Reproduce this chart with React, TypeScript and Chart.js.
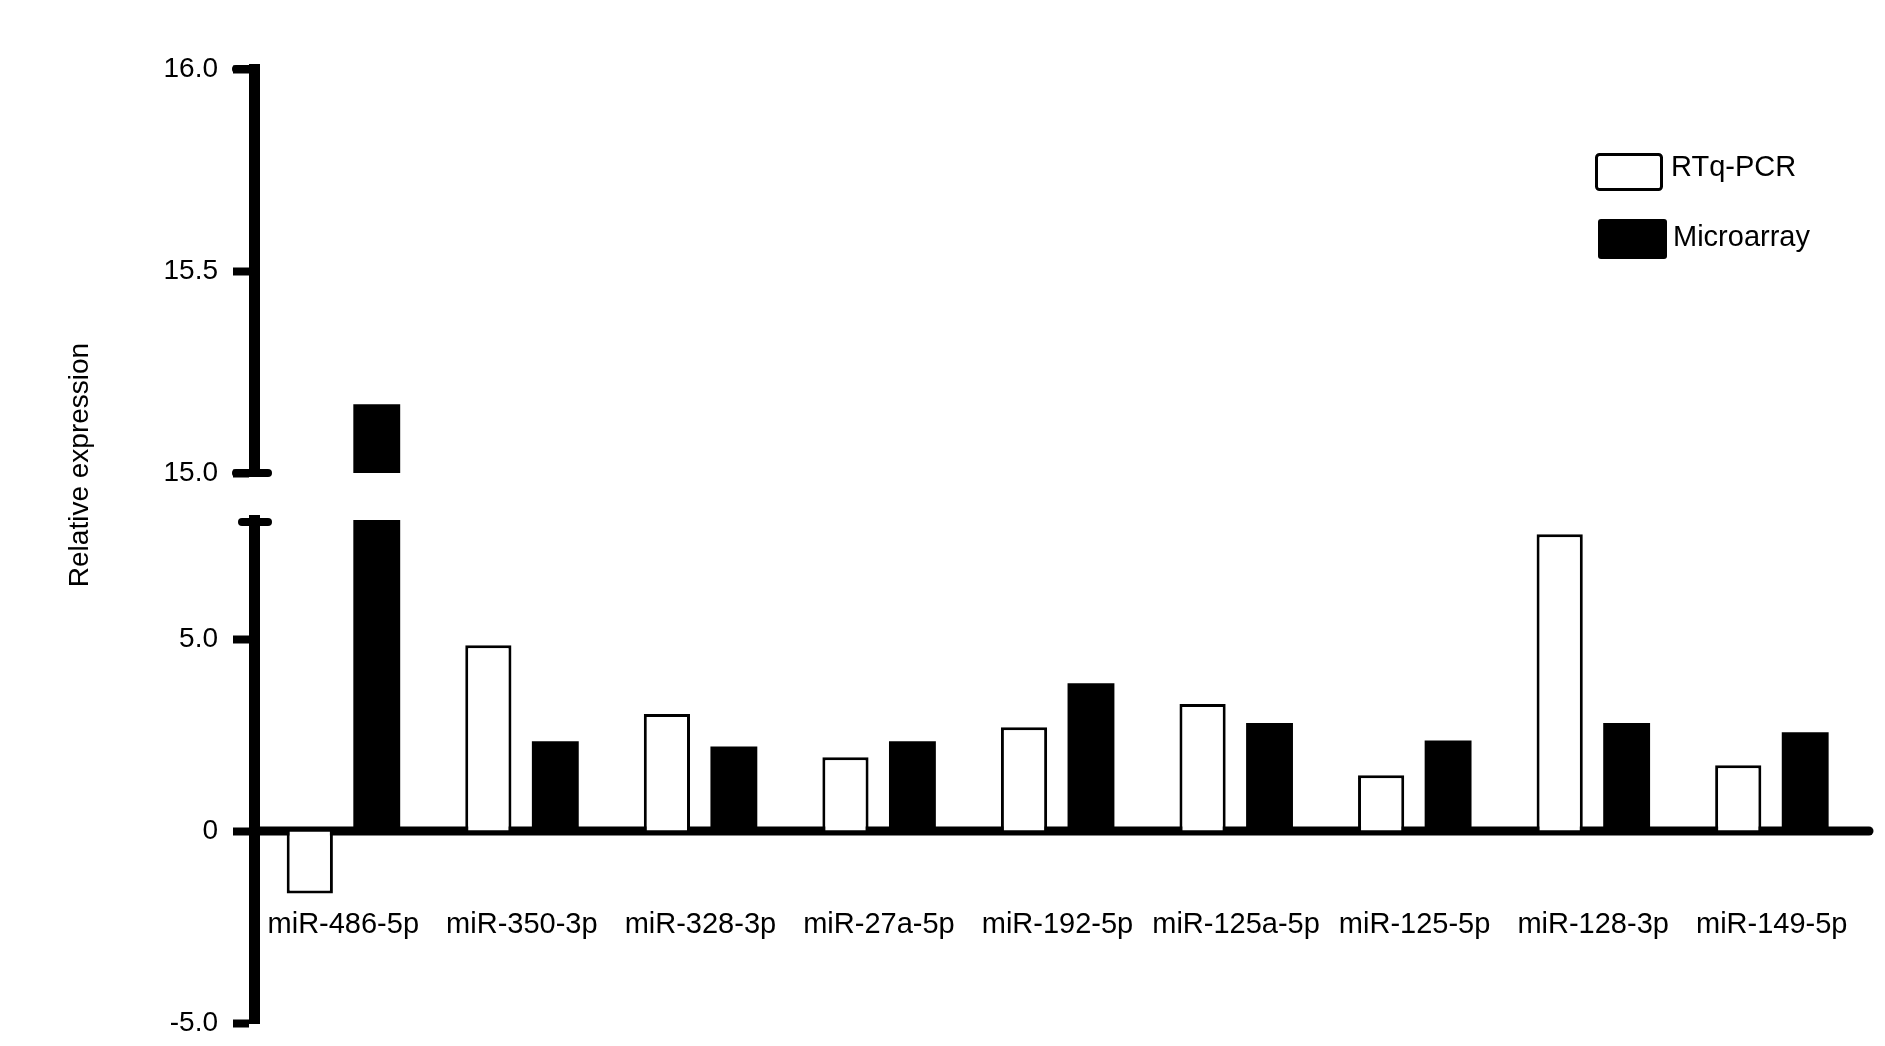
import React, { useEffect, useRef } from 'react';
import { Chart, registerables } from 'chart.js';

Chart.register(...registerables);

const CATEGORIES = ['miR-486-5p', 'miR-350-3p', 'miR-328-3p', 'miR-27a-5p', 'miR-192-5p', 'miR-125a-5p', 'miR-125-5p', 'miR-128-3p', 'miR-149-5p'];
const RTQPCR = [-1.63, 4.84, 3.05, 1.92, 2.7, 3.31, 1.45, 7.73, 1.71];
const MICROARRAY = [15.17, 2.34, 2.2, 2.34, 3.85, 2.81, 2.36, 2.81, 2.57];
const SERIES_LABELS = ['RTq-PCR', 'Microarray'];
const UPPER_TICKS = [15, 15.5, 16];
const LOWER_TICKS = [-5, 0, 5];
const UPPER_MIN = 15;
const UPPER_MAX = 16;
const LOWER_MIN = -5;
const LOWER_MAX = 8.1;
const Y_TITLE = 'Relative expression';

const FONT = "'Liberation Sans', Arial, sans-serif";
const AXIS_W = 254;

const fixWidth = (s: any) => {
  s.width = AXIS_W;
  s.paddingTop = 0;
  s.paddingBottom = 0;
  s.paddingLeft = 0;
  s.paddingRight = 0;
};

const brokenAxisPlugin = {
  id: 'brokenAxis',
  beforeDatasetsDraw(chart: any) {
    const { ctx, chartArea } = chart;
    const y = chart.scales.y;
    const y0 = y.getPixelForValue(0);
    ctx.save();
    ctx.strokeStyle = '#000';
    ctx.lineWidth = 9;
    ctx.lineCap = 'round';
    ctx.beginPath();
    ctx.moveTo(chartArea.left, y0);
    ctx.lineTo(chartArea.right + 8, y0);
    ctx.stroke();
    ctx.restore();
  },
  afterDraw(chart: any) {
    const { ctx, chartArea } = chart;
    const yTop = chart.scales.yTop;
    const y = chart.scales.y;
    const left = chartArea.left;
    ctx.save();
    ctx.strokeStyle = '#000';
    ctx.lineCap = 'round';
    ctx.lineWidth = 8;
    const yb = yTop.getPixelForValue(UPPER_MIN);
    ctx.beginPath();
    ctx.moveTo(left - 18, yb);
    ctx.lineTo(left + 14, yb);
    ctx.stroke();
    const yt = y.getPixelForValue(LOWER_MAX);
    ctx.beginPath();
    ctx.moveTo(left - 12, yt + 2);
    ctx.lineTo(left + 14, yt + 2);
    ctx.stroke();
    const y16 = yTop.getPixelForValue(UPPER_MAX);
    ctx.beginPath();
    ctx.moveTo(left - 18, y16);
    ctx.lineTo(left, y16);
    ctx.stroke();

    // y title
    ctx.fillStyle = '#000';
    ctx.font = `28px ${FONT}`;
    ctx.textAlign = 'center';
    ctx.textBaseline = 'middle';
    ctx.translate(80, 465);
    ctx.rotate(-Math.PI / 2);
    ctx.fillText(Y_TITLE, 0, 0);
    ctx.restore();

    // legend
    ctx.save();
    ctx.strokeStyle = '#000';
    ctx.fillStyle = '#fff';
    ctx.lineWidth = 3;
    ctx.beginPath();
    if (ctx.roundRect) ctx.roundRect(1596.5, 154.5, 65, 35, 3);
    else ctx.rect(1596.5, 154.5, 65, 35);
    ctx.fill();
    ctx.stroke();
    ctx.fillStyle = '#000';
    ctx.beginPath();
    if (ctx.roundRect) ctx.roundRect(1598, 219, 69, 40, 3);
    else ctx.rect(1598, 219, 69, 40);
    ctx.fill();
    ctx.font = `29px ${FONT}`;
    ctx.textAlign = 'left';
    ctx.textBaseline = 'middle';
    ctx.fillText(SERIES_LABELS[0], 1671, 168);
    ctx.fillText(SERIES_LABELS[1], 1673, 238);
    ctx.restore();
  },
};

export default function App() {
  const ref = useRef<HTMLCanvasElement | null>(null);

  useEffect(() => {
    if (!ref.current) return;
    const microLower = MICROARRAY.map((v) => Math.min(v, LOWER_MAX));
    const microUpper = MICROARRAY.map((v) => (v > UPPER_MIN ? [UPPER_MIN, v] : null));

    const tickGrid = {
      display: true,
      drawOnChartArea: false,
      drawTicks: true,
      tickLength: 21,
      tickWidth: 8,
      tickColor: '#000',
      color: '#000',
      lineWidth: 1,
    };
    const tickFont = { family: FONT, size: 28 };

    const chart = new Chart(ref.current, {
      type: 'bar',
      data: {
        labels: CATEGORIES,
        datasets: [
          {
            label: SERIES_LABELS[0],
            data: RTQPCR,
            yAxisID: 'y',
            stack: 'rt',
            backgroundColor: '#fff',
            borderColor: '#000',
            borderWidth: 3,
            categoryPercentage: 0.75,
            barPercentage: 0.69,
          },
          {
            label: SERIES_LABELS[1],
            data: microLower,
            yAxisID: 'y',
            stack: 'micro',
            backgroundColor: '#000',
            borderWidth: 0,
            categoryPercentage: 0.75,
            barPercentage: 0.7,
          },
          {
            label: SERIES_LABELS[1] + ' (upper)',
            data: microUpper as any,
            yAxisID: 'yTop',
            stack: 'micro',
            backgroundColor: '#000',
            borderWidth: 0,
            categoryPercentage: 0.75,
            barPercentage: 0.7,
          },
        ],
      },
      options: {
        responsive: false,
        animation: false,
        layout: { padding: { top: 69, bottom: 23, left: 0, right: 24 } },
        plugins: { legend: { display: false }, tooltip: { enabled: false } },
        scales: {
          x: {
            type: 'category',
            position: { y: -2 } as any,
            grid: { display: false, drawTicks: false },
            border: { display: false },
            ticks: { color: '#000', font: { family: FONT, size: 29 }, padding: 0, maxRotation: 0, autoSkip: false },
          },
          y: {
            type: 'linear',
            position: 'left',
            stack: 'v',
            stackWeight: 503,
            weight: 1,
            stacked: false,
            min: LOWER_MIN,
            max: LOWER_MAX,
            afterBuildTicks: (s: any) => {
              s.ticks = LOWER_TICKS.map((value) => ({ value }));
            },
            afterFit: fixWidth,
            grid: tickGrid,
            border: { display: true, color: '#000', width: 11 },
            ticks: {
              color: '#000',
              font: tickFont,
              padding: 15,
              callback: (v: any) => (Number(v) === 0 ? '0' : Number(v).toFixed(1)),
            },
          },
          ySpacer: {
            type: 'linear',
            position: 'left',
            stack: 'v',
            stackWeight: 47,
            weight: 2,
            min: 0,
            max: 1,
            afterFit: fixWidth,
            grid: { display: false, drawTicks: false },
            border: { display: false },
            ticks: { display: false },
          },
          yTop: {
            type: 'linear',
            position: 'left',
            stack: 'v',
            stackWeight: 404,
            weight: 3,
            stacked: false,
            min: UPPER_MIN,
            max: UPPER_MAX,
            afterBuildTicks: (s: any) => {
              s.ticks = UPPER_TICKS.map((value) => ({ value }));
            },
            afterFit: fixWidth,
            grid: tickGrid,
            border: { display: true, color: '#000', width: 11 },
            ticks: {
              color: '#000',
              font: tickFont,
              padding: 15,
              callback: (v: any) => Number(v).toFixed(1),
            },
          },
        } as any,
      },
      plugins: [brokenAxisPlugin],
    });
    return () => chart.destroy();
  }, []);

  return (
    <canvas
      ref={ref}
      width={1885}
      height={1046}
      style={{ position: 'fixed', left: 0, top: 0, width: 1885, height: 1046, background: '#fff' }}
    />
  );
}
